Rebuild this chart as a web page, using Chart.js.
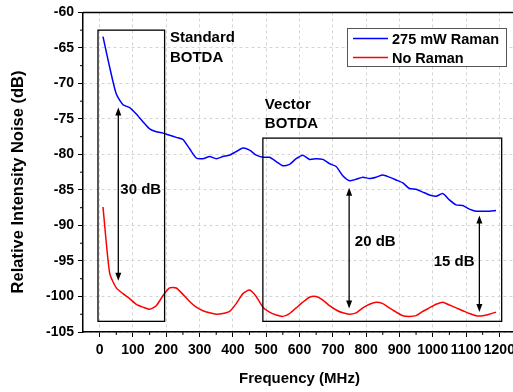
<!DOCTYPE html>
<html>
<head>
<meta charset="utf-8">
<script src="https://cdn.jsdelivr.net/npm/chart.js@4.4.0/dist/chart.umd.min.js"></script>
<style>
    html, body { margin: 0; padding: 0; overflow: hidden; background: #fff; }
    #contenedor { width: 530px; height: 392px; }
</style>
</head>
<body>
<div id="contenedor"><canvas id="ruidoChart" width="530" height="392"></canvas></div>
<script>
// frecuencia (MHz)
const frecuencias = [10, 30, 50, 70, 90, 110, 130, 150, 170, 190,
    210, 230, 250, 270, 290, 310, 330, 350, 370, 390,
    410, 430, 450, 470, 490, 510, 530, 550, 570, 590,
    610, 630, 650, 670, 690, 710, 730, 750, 770, 790,
    810, 830, 850, 870, 890, 910, 930, 950, 970, 990,
    1010, 1030, 1050, 1070, 1090, 1110, 1130, 1150, 1170, 1190];

// 275 mW Raman (dB)
const ruidoRaman = [-63.4, -67.7, -71.5, -73.0, -73.4, -74.3, -75.4, -76.4, -76.8, -77.0,
    -77.3, -77.6, -77.9, -79.2, -80.5, -80.6, -80.3, -80.6, -80.3, -80.1,
    -79.6, -79.1, -79.4, -80.1, -80.4, -80.4, -81.0, -81.6, -81.4, -80.6,
    -80.1, -80.7, -80.6, -80.7, -81.3, -81.7, -83.0, -83.7, -83.5, -83.2,
    -83.4, -83.2, -82.9, -83.2, -83.6, -84.0, -84.8, -84.9, -85.3, -85.7,
    -85.9, -85.5, -86.4, -87.1, -87.2, -87.7, -88.0, -88.0, -88.0, -87.9];

// sin Raman (dB)
const ruidoSinRaman = [-87.4, -96.7, -98.8, -99.6, -100.3, -101.1, -101.5, -101.8, -101.3, -99.9,
    -98.8, -98.8, -99.7, -100.7, -101.5, -102.0, -102.3, -102.5, -102.4, -102.1,
    -101.0, -99.6, -99.1, -100.0, -101.5, -102.2, -102.6, -102.8, -102.4, -101.6,
    -100.8, -100.1, -100.0, -100.5, -101.3, -101.9, -102.3, -102.5, -102.3, -101.6,
    -101.1, -100.8, -101.0, -101.6, -102.2, -102.7, -102.8, -102.7, -102.1, -101.6,
    -101.1, -100.8, -101.2, -101.6, -102.0, -102.4, -102.7, -102.7, -102.5, -102.2];

const ticksX = [0, 100, 200, 300, 400, 500, 600, 700, 800, 900, 1000, 1100, 1200];
const ticksY = [-105, -100, -95, -90, -85, -80, -75, -70, -65, -60];

// anotaciones en unidades de datos
const cajas = [
    { x0: -5, x1: 195, y0: -62.5, y1: -103.5 },
    { x0: 490, x1: 1207, y0: -77.7, y1: -103.5 }
];
const flechas = [
    { x: 56, y0: -73.4, y1: -97.8 },
    { x: 749, y0: -84.7, y1: -101.7 },
    { x: 1140, y0: -88.6, y1: -102.2 }
];
const textos = [
    { t: 'Standard', x: 211, y: -63.6 },
    { t: 'BOTDA', x: 211, y: -66.4 },
    { t: 'Vector', x: 496, y: -73.0 },
    { t: 'BOTDA', x: 496, y: -75.7 },
    { t: '30 dB', x: 62, y: -85.0 },
    { t: '20 dB', x: 766, y: -92.3 },
    { t: '15 dB', x: 1003, y: -95.1 }
];

const FUENTE = '"Liberation Sans", Arial, sans-serif';

const aPuntos = (ys) => frecuencias.map((f, i) => ({ x: f, y: ys[i] }));

const anotacionesPlugin = {
    id: 'anotaciones',
    afterDatasetsDraw(chart) {
        const { ctx, chartArea, scales } = chart;
        const sx = scales.x, sy = scales.y;
        ctx.save();

        // marco superior
        ctx.strokeStyle = '#000';
        ctx.lineWidth = 1.5;
        ctx.beginPath();
        ctx.moveTo(chartArea.left, chartArea.top);
        ctx.lineTo(chartArea.right, chartArea.top);
        ctx.lineTo(chartArea.right, chartArea.bottom);
        ctx.stroke();

        // ticks menores
        ctx.lineWidth = 1;
        ctx.beginPath();
        for (let v = 50; v < 1250; v += 100) {
            const px = sx.getPixelForValue(v);
            ctx.moveTo(px, chartArea.bottom);
            ctx.lineTo(px, chartArea.bottom + 3);
        }
        for (let v = -102.5; v < -60; v += 5) {
            const py = sy.getPixelForValue(v);
            ctx.moveTo(chartArea.left, py);
            ctx.lineTo(chartArea.left - 3, py);
        }
        ctx.stroke();

        // cajas
        ctx.lineWidth = 1.3;
        cajas.forEach(c => {
            const x0 = sx.getPixelForValue(c.x0), x1 = sx.getPixelForValue(c.x1);
            const y0 = sy.getPixelForValue(c.y0), y1 = sy.getPixelForValue(c.y1);
            ctx.strokeRect(x0, y0, x1 - x0, y1 - y0);
        });

        // flechas dobles
        ctx.fillStyle = '#000';
        flechas.forEach(f => {
            const px = sx.getPixelForValue(f.x);
            const ya = sy.getPixelForValue(f.y0), yb = sy.getPixelForValue(f.y1);
            ctx.lineWidth = 1.3;
            ctx.beginPath();
            ctx.moveTo(px, ya + 6);
            ctx.lineTo(px, yb - 6);
            ctx.stroke();
            ctx.beginPath();
            ctx.moveTo(px, ya);
            ctx.lineTo(px - 3, ya + 8);
            ctx.lineTo(px + 3, ya + 8);
            ctx.closePath();
            ctx.fill();
            ctx.beginPath();
            ctx.moveTo(px, yb);
            ctx.lineTo(px - 3, yb - 8);
            ctx.lineTo(px + 3, yb - 8);
            ctx.closePath();
            ctx.fill();
        });

        // textos
        ctx.font = 'bold 15px ' + FUENTE;
        ctx.textAlign = 'left';
        ctx.textBaseline = 'middle';
        textos.forEach(t => {
            ctx.fillText(t.t, sx.getPixelForValue(t.x), sy.getPixelForValue(t.y));
        });

        // titulo eje y
        ctx.save();
        ctx.translate(18, 182);
        ctx.rotate(-Math.PI / 2);
        ctx.textAlign = 'center';
        ctx.font = 'bold 16.5px ' + FUENTE;
        ctx.fillText('Relative Intensity Noise (dB)', 0, 0);
        ctx.restore();

        // leyenda
        const lx = 347, ly = 28, lw = 159, lh = 38;
        ctx.fillStyle = '#fff';
        ctx.fillRect(lx, ly, lw, lh);
        ctx.strokeStyle = '#555';
        ctx.lineWidth = 1;
        ctx.strokeRect(lx + 0.5, ly + 0.5, lw, lh);
        ctx.font = 'bold 14.5px ' + FUENTE;
        chart.data.datasets.forEach((ds, i) => {
            const yy = ly + 10.5 + i * 19;
            ctx.strokeStyle = ds.borderColor;
            ctx.lineWidth = 1.5;
            ctx.beginPath();
            ctx.moveTo(lx + 6, yy);
            ctx.lineTo(lx + 41, yy);
            ctx.stroke();
            ctx.fillStyle = '#000';
            ctx.fillText(ds.label, lx + 45, yy + 1);
        });

        ctx.restore();
    }
};

document.addEventListener('DOMContentLoaded', () => {
    const ctx = document.getElementById('ruidoChart').getContext('2d');
    new Chart(ctx, {
        type: 'line',
        data: {
            datasets: [{
                label: '275 mW Raman',
                data: aPuntos(ruidoRaman),
                borderColor: '#0000ff',
                borderWidth: 1.5,
                pointRadius: 0,
                tension: 0.2,
                fill: false
            }, {
                label: 'No Raman',
                data: aPuntos(ruidoSinRaman),
                borderColor: '#ff0000',
                borderWidth: 1.5,
                pointRadius: 0,
                tension: 0.2,
                fill: false
            }]
        },
        options: {
            responsive: false,
            animation: false,
            devicePixelRatio: 1,
            layout: { padding: { top: 10, right: 14, bottom: 0, left: 0 } },
            plugins: {
                legend: { display: false },
                tooltip: { enabled: false }
            },
            scales: {
                x: {
                    type: 'linear',
                    min: -50,
                    max: 1250,
                    afterBuildTicks: (scale) => { scale.ticks = ticksX.map(v => ({ value: v })); },
                    afterFit: (scale) => { scale.height = 60; },
                    grid: { color: '#d4d4d4', tickColor: '#000', tickLength: 5, lineWidth: 1 },
                    border: { display: true, color: '#000', width: 1.5, dash: [3, 3] },
                    ticks: {
                        color: '#000',
                        padding: 5,
                        maxRotation: 0,
                        autoSkip: false,
                        callback: (v) => String(v),
                        font: { family: FUENTE, weight: 'bold', size: 14 }
                    },
                    title: {
                        display: true,
                        text: 'Frequency (MHz)',
                        color: '#000',
                        padding: { top: 0, bottom: 4 },
                        font: { family: FUENTE, weight: 'bold', size: 15 }
                    }
                },
                y: {
                    min: -105,
                    max: -60,
                    afterBuildTicks: (scale) => { scale.ticks = ticksY.map(v => ({ value: v })); },
                    afterFit: (scale) => { scale.width = 83; },
                    grid: { color: '#d4d4d4', tickColor: '#000', tickLength: 5, lineWidth: 1 },
                    border: { display: true, color: '#000', width: 1.5, dash: [3, 3] },
                    ticks: {
                        color: '#000',
                        padding: 4,
                        callback: (v) => String(v),
                        font: { family: FUENTE, weight: 'bold', size: 14 }
                    },
                    title: { display: false }
                }
            }
        },
        plugins: [anotacionesPlugin]
    });
});
</script>
</body>
</html>
